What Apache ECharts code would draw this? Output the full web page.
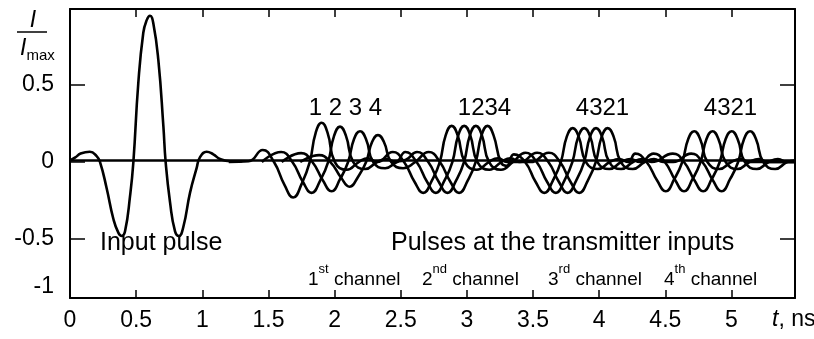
<!DOCTYPE html>
<html><head><meta charset="utf-8">
<script src="https://cdn.jsdelivr.net/npm/echarts@6/dist/echarts.min.js"></script>
<style>html,body{margin:0;padding:0;background:#fff}#c{width:814px;height:339px}</style>
</head><body><div id="c"></div>
<script>
// ---- data (t in ns, I/Imax) ----
const inputPulse = [[0,0.01],[0.04,0.03],[0.08,0.055],[0.15,0.067],[0.2,0.04],[0.227,0],[0.277,-0.17],[0.328,-0.37],[0.366,-0.46],[0.391,-0.48],[0.416,-0.45],[0.454,-0.22],[0.479,0],[0.516,0.51],[0.554,0.84],[0.579,0.92],[0.605,0.95],[0.63,0.9],[0.668,0.66],[0.706,0.23],[0.723,0],[0.756,-0.26],[0.794,-0.45],[0.824,-0.48],[0.857,-0.42],[0.907,-0.2],[0.957,-0.04],[0.982,0.03],[1.033,0.067],[1.083,0.05],[1.134,0.02],[1.21,0.005],[1.3,0.005]];

const channel1 = [[1.2,0],[1.35,0.005],[1.457,0.078],[1.542,0],[1.622,-0.15],[1.687,-0.23],[1.752,-0.14],[1.812,0],[1.857,0.19],[1.902,0.255],[1.947,0.19],[2.002,0],[2.092,-0.05],[2.182,0],[2.252,0.025],[2.322,0],
  [2.44,0.065],[2.525,0],[2.605,-0.13],[2.67,-0.2],[2.735,-0.12],[2.795,0],[2.84,0.175],[2.885,0.235],[2.93,0.175],[2.985,0],[3.075,-0.05],[3.165,0],[3.235,0.025],[3.305,0],
  [3.48,0],[3.619,0.06],[3.704,0],[3.784,-0.13],[3.849,-0.2],[3.914,-0.12],[3.974,0],[4.019,0.165],[4.064,0.22],[4.109,0.165],[4.164,0],[4.254,-0.045],[4.344,0],[4.414,0.02],[4.484,0],
  [4.56,0],[4.695,0.055],[4.78,0],[4.86,-0.12],[4.925,-0.19],[4.99,-0.11],[5.05,0],[5.095,0.15],[5.14,0.2],[5.185,0.15],[5.24,0],[5.33,-0.045],[5.42,0],[5.48,0.01]];

const channel2 = [[1.45,0],[1.596,0.065],[1.681,0],[1.761,-0.13],[1.826,-0.2],[1.891,-0.12],[1.951,0],[1.996,0.17],[2.041,0.23],[2.086,0.17],[2.141,0],[2.231,-0.045],[2.321,0],[2.391,0.02],[2.461,0],
  [2.535,0.065],[2.62,0],[2.7,-0.13],[2.765,-0.2],[2.83,-0.12],[2.89,0],[2.935,0.175],[2.98,0.235],[3.025,0.175],[3.08,0],[3.17,-0.05],[3.26,0],[3.33,0.025],[3.4,0],
  [3.531,0.06],[3.616,0],[3.696,-0.13],[3.761,-0.2],[3.826,-0.12],[3.886,0],[3.931,0.165],[3.976,0.22],[4.021,0.165],[4.076,0],[4.166,-0.045],[4.256,0],[4.326,0.02],[4.396,0],
  [4.556,0.055],[4.641,0],[4.721,-0.12],[4.786,-0.19],[4.851,-0.11],[4.911,0],[4.956,0.15],[5.001,0.2],[5.046,0.15],[5.101,0],[5.191,-0.045],[5.281,0],[5.351,0.02],[5.421,0],[5.48,0]];

const channel3 = [[1.6,0],[1.747,0.058],[1.832,0],[1.912,-0.12],[1.977,-0.19],[2.042,-0.11],[2.102,0],[2.147,0.15],[2.192,0.2],[2.237,0.15],[2.292,0],[2.382,-0.04],[2.472,0],[2.54,0.015],
  [2.623,0.065],[2.708,0],[2.788,-0.13],[2.853,-0.2],[2.918,-0.12],[2.978,0],[3.023,0.175],[3.068,0.235],[3.113,0.175],[3.168,0],[3.258,-0.05],[3.348,0],
  [3.442,0.06],[3.527,0],[3.607,-0.13],[3.672,-0.2],[3.737,-0.12],[3.797,0],[3.842,0.165],[3.887,0.22],[3.932,0.165],[3.987,0],[4.077,-0.045],[4.167,0],[4.237,0.02],[4.307,0],
  [4.411,0.055],[4.496,0],[4.576,-0.12],[4.641,-0.19],[4.706,-0.11],[4.766,0],[4.811,0.15],[4.856,0.2],[4.901,0.15],[4.956,0],[5.046,-0.045],[5.136,0],[5.206,0.02],[5.276,0],[5.48,0]];

const channel4 = [[1.74,0],[1.883,0.045],[1.968,0],[2.048,-0.1],[2.113,-0.16],[2.178,-0.095],[2.238,0],[2.283,0.13],[2.328,0.175],[2.373,0.13],[2.428,0],[2.518,-0.04],[2.608,0],
  [2.711,0.065],[2.796,0],[2.876,-0.13],[2.941,-0.2],[3.006,-0.12],[3.066,0],[3.111,0.175],[3.156,0.235],[3.201,0.175],[3.256,0],[3.3,-0.025],
  [3.355,0.05],[3.44,0],[3.52,-0.13],[3.585,-0.2],[3.65,-0.12],[3.71,0],[3.755,0.165],[3.8,0.22],[3.845,0.165],[3.9,0],[3.99,-0.045],[4.08,0],[4.15,0.02],[4.22,0],
  [4.273,0.055],[4.358,0],[4.438,-0.12],[4.503,-0.19],[4.568,-0.11],[4.628,0],[4.673,0.15],[4.718,0.2],[4.763,0.15],[4.818,0],[4.908,-0.045],[4.998,0],[5.068,0.02],[5.138,0],[5.48,0]];

const baseline = [[0,0.01],[5.48,0.01]];

const xTickValues = [0.5, 1, 1.5, 2, 2.5, 3, 3.5, 4, 4.5, 5];
const xLabelValues = [0, 0.5, 1, 1.5, 2, 2.5, 3, 3.5, 4, 4.5, 5];
const yTickValues = [-0.5, 0, 0.5];
const yLabelValues = [-0.81, -0.5, 0, 0.5];
const yLabelTexts = ['-1', '-0.5', '0', '0.5'];
const groupLabels = ['1 2 3 4', '1234', '4321', '4321'];
const channelNames = ['1', '2', '3', '4'];

// ---- chart ----
const FONT = 'Liberation Sans';
const XMIN = 0, XMAX = 5.48, YMIN = -0.883, YMAX = 0.994;
const chart = echarts.init(document.getElementById('c'), null, {renderer: 'canvas'});
const axisLineStyle = {color: '#000', width: 2};
const tickLineStyle = {color: '#000', width: 1.5};

function xAxisDef(pos, showLabels) {
  return {
    type: 'value', position: pos, min: XMIN, max: XMAX,
    axisLine: {show: true, onZero: false, lineStyle: axisLineStyle},
    axisTick: {show: true, inside: true, length: 8, customValues: xTickValues, lineStyle: tickLineStyle},
    axisLabel: showLabels ? {show: true, customValues: xLabelValues, color: '#000', fontFamily: FONT, fontSize: 23, margin: 11,
      formatter: v => String(v)} : {show: false},
    splitLine: {show: false}
  };
}
function yAxisDef(pos, showLabels) {
  return {
    type: 'value', position: pos, min: YMIN, max: YMAX,
    axisLine: {show: true, onZero: false, lineStyle: axisLineStyle},
    axisTick: {show: true, inside: true, length: 15, customValues: yTickValues, lineStyle: tickLineStyle},
    axisLabel: showLabels ? {show: true, customValues: yLabelValues, color: '#000', fontFamily: FONT, fontSize: 23, margin: 16,
      formatter: v => yLabelTexts[yLabelValues.indexOf(v)]} : {show: false},
    splitLine: {show: false}
  };
}
const curveStyle = {color: '#000', width: 2.6};
function ser(name, data) {
  return {name: name, type: 'line', data: data, xAxisIndex: 0, yAxisIndex: 0,
    smooth: true, showSymbol: false, symbol: 'none', lineStyle: curveStyle, clip: true, silent: true, animation: false};
}
const series = [ser('baseline', baseline), ser('Input pulse', inputPulse)];
[channel1, channel2, channel3, channel4].forEach((d, i) => series.push(ser('Channel ' + channelNames[i], d)));

const txt = (text, x, y, size, align) => ({
  type: 'text', x: x, y: y, silent: true,
  style: {text: text, fontFamily: FONT, fontSize: size, fill: '#000', textAlign: align || 'left', textVerticalAlign: 'middle'}
});
const supRich = {
  n: {fontFamily: FONT, fontSize: 19, color: '#000', lineHeight: 26, verticalAlign: 'bottom'},
  s: {fontFamily: FONT, fontSize: 13, color: '#000', lineHeight: 26, verticalAlign: 'top'}
};
const chanLabel = (num, sup, x) => ({
  type: 'text', x: x, y: 276, silent: true,
  style: {text: '{n|' + num + '}{s|' + sup + '}{n| channel}', rich: supRich, textAlign: 'left', textVerticalAlign: 'middle', fill: '#000'}
});

const graphic = [
  {type: 'text', x: 33, y: 21, silent: true, style: {text: 'I', fontFamily: FONT, fontSize: 23, fontStyle: 'italic', fill: '#000', textAlign: 'center', textVerticalAlign: 'middle'}},
  {type: 'line', silent: true, shape: {x1: 17, y1: 32, x2: 47, y2: 32}, style: {stroke: '#000', lineWidth: 1.5}},
  {type: 'text', x: 20, y: 48, silent: true, style: {text: '{i|I}{m|max}', textAlign: 'left', textVerticalAlign: 'middle',
    rich: {i: {fontFamily: FONT, fontSize: 23, fontStyle: 'italic', color: '#000', lineHeight: 24, verticalAlign: 'bottom'},
           m: {fontFamily: FONT, fontSize: 15, color: '#000', lineHeight: 24, verticalAlign: 'bottom', padding: [0, 0, -3, 0]}}}},
  {type: 'text', x: 772, y: 320, silent: true, style: {text: '{i|t}{n|, ns}', textAlign: 'left', textVerticalAlign: 'middle',
    rich: {i: {fontFamily: FONT, fontSize: 23, fontStyle: 'italic', color: '#000'}, n: {fontFamily: FONT, fontSize: 23, color: '#000'}}}},
  txt('Input pulse', 100, 243, 25),
  txt('Pulses at the transmitter inputs', 391, 243, 25),
  txt(groupLabels[0], 345.5, 108, 24, 'center'),
  txt(groupLabels[1], 484.5, 108, 24, 'center'),
  txt(groupLabels[2], 602.5, 108, 24, 'center'),
  txt(groupLabels[3], 730.5, 108, 24, 'center'),
  chanLabel('1', 'st', 308),
  chanLabel('2', 'nd', 422),
  chanLabel('3', 'rd', 548),
  chanLabel('4', 'th', 664)
];

chart.setOption({
  animation: false,
  backgroundColor: '#fff',
  grid: {left: 70, top: 9, width: 725, height: 289},
  xAxis: [xAxisDef('bottom', true), xAxisDef('top', false)],
  yAxis: [yAxisDef('left', true), yAxisDef('right', false)],
  series: series,
  graphic: graphic
});
</script></body></html>
